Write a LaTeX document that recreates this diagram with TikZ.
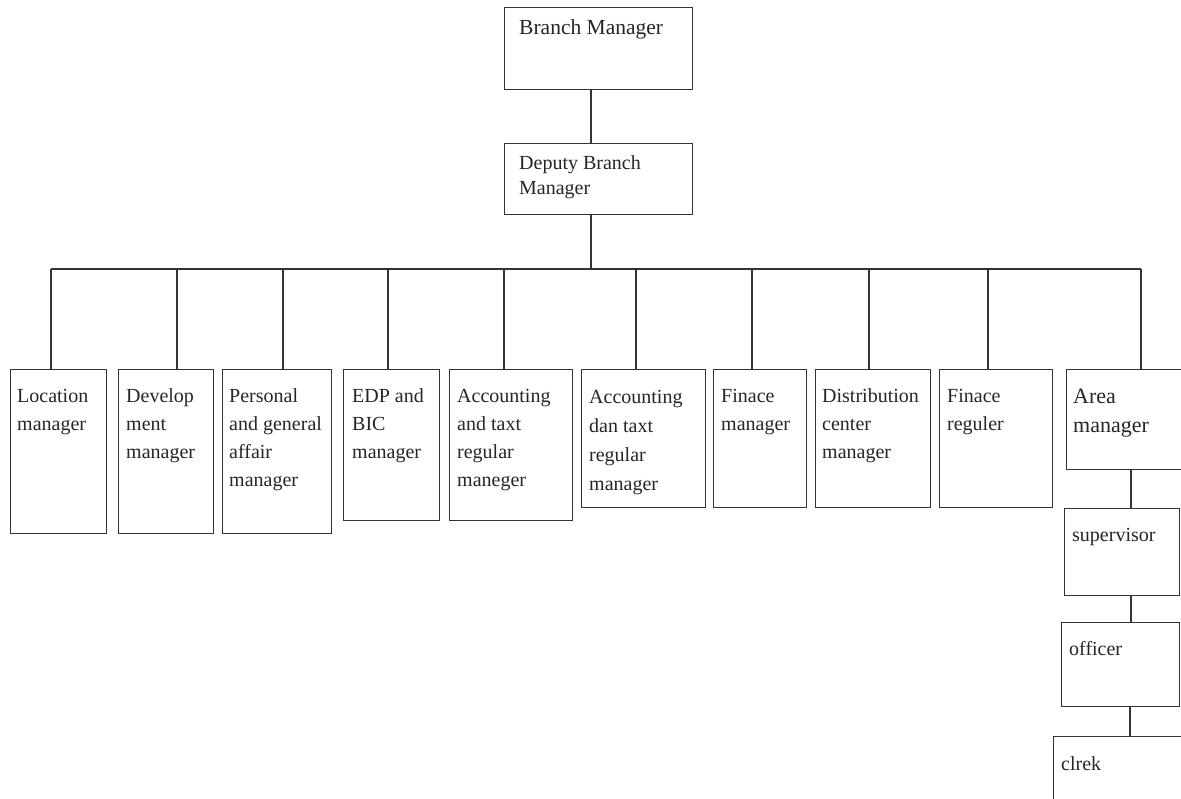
\documentclass[tikz,border=0pt]{standalone}
\usepackage{fontspec}
\setmainfont{Liberation Serif}
\usetikzlibrary{calc}
\newcommand\stk[1]{\begin{tabular}[t]{@{}l@{}}#1\end{tabular}}
\tikzset{
  box/.style={draw=black!80, line width=1.3pt, rectangle, inner sep=0pt, anchor=north west},
  conn/.style={draw=black!80, line width=1.3pt},
  lbl/.style={anchor=base west, inner sep=0pt, text=black!85, font=\fontsize{20}{28}\selectfont},
}
\begin{document}
\begin{tikzpicture}[x=1pt,y=-1pt]
\useasboundingbox (0,0) rectangle (1181,799);
\clip (0,0) rectangle (1181,799);
\fill[white] (0,0) rectangle (1181,799);
% top
\node[box, minimum width=188pt, minimum height=82pt] (bm) at (504,7) {};
\node[lbl, font=\fontsize{21.5}{26}\selectfont] (bmT) at ($(bm.north west)+(15,28)$) {Branch Manager};
\node[box, minimum width=188pt, minimum height=71pt] (dbm) at (504,143) {};
\node[lbl, font=\fontsize{20}{25}\selectfont] (dbmT) at ($(dbm.north west)+(15,27)$) {\stk{Deputy Branch\\Manager}};
% children
\node[box, minimum width=96pt, minimum height=164pt] (loc) at (10,369) {};
\node[lbl] (locT) at ($(loc.north west)+(7,34)$) {\stk{Location\\manager}};
\node[box, minimum width=95pt, minimum height=164pt] (dev) at (118,369) {};
\node[lbl] (devT) at ($(dev.north west)+(8,34)$) {\stk{Develop\\ment\\manager}};
\node[box, minimum width=109pt, minimum height=164pt] (per) at (222,369) {};
\node[lbl] (perT) at ($(per.north west)+(7,34)$) {\stk{Personal\\and general\\affair\\manager}};
\node[box, minimum width=96pt, minimum height=151pt] (edp) at (343,369) {};
\node[lbl] (edpT) at ($(edp.north west)+(9,34)$) {\stk{EDP and\\BIC\\manager}};
\node[box, minimum width=123pt, minimum height=151pt] (ac1) at (449,369) {};
\node[lbl] (ac1T) at ($(ac1.north west)+(8,34)$) {\stk{Accounting\\and taxt\\regular\\maneger}};
\node[box, minimum width=124pt, minimum height=138pt] (ac2) at (581,369) {};
\node[lbl, font=\fontsize{20}{29}\selectfont] (ac2T) at ($(ac2.north west)+(8,35)$) {\stk{Accounting\\dan taxt\\regular\\manager}};
\node[box, minimum width=93pt, minimum height=138pt] (fin) at (713,369) {};
\node[lbl] (finT) at ($(fin.north west)+(8,34)$) {\stk{Finace\\manager}};
\node[box, minimum width=115pt, minimum height=138pt] (dis) at (815,369) {};
\node[lbl] (disT) at ($(dis.north west)+(7,34)$) {\stk{Distribution\\center\\manager}};
\node[box, minimum width=113pt, minimum height=138pt] (frg) at (939,369) {};
\node[lbl] (frgT) at ($(frg.north west)+(8,34)$) {\stk{Finace\\reguler}};
\node[box, minimum width=130pt, minimum height=100pt] (area) at (1066,369) {};
\node[lbl, font=\fontsize{22}{29}\selectfont] (areaT) at ($(area.north west)+(7,35)$) {\stk{Area\\manager}};
% chain
\node[box, minimum width=115pt, minimum height=87pt] (sup) at (1064,508) {};
\node[lbl] (supT) at ($(sup.north west)+(8,33)$) {supervisor};
\node[box, minimum width=118pt, minimum height=84pt] (off) at (1061,622) {};
\node[lbl] (offT) at ($(off.north west)+(8,33)$) {officer};
\node[box, minimum width=140pt, minimum height=90pt] (clk) at (1053,736) {};
\node[lbl] (clkT) at ($(clk.north west)+(8,34)$) {clrek};
% connectors
\coordinate (j0) at (591,269);
\draw[conn] (j0 |- bm.south) -- (j0 |- dbm.north);
\draw[conn] (j0 |- dbm.south) -- (j0);
\coordinate (d1) at (51,269);
\coordinate (d2) at (177,269);
\coordinate (d3) at (283,269);
\coordinate (d4) at (388,269);
\coordinate (d5) at (504,269);
\coordinate (d6) at (636,269);
\coordinate (d7) at (752,269);
\coordinate (d8) at (869,269);
\coordinate (d9) at (988,269);
\coordinate (d10) at (1141,269);
\draw[conn] (d1) -- (d10);
\draw[conn] (d1) -- (d1 |- loc.north);
\draw[conn] (d2) -- (d2 |- dev.north);
\draw[conn] (d3) -- (d3 |- per.north);
\draw[conn] (d4) -- (d4 |- edp.north);
\draw[conn] (d5) -- (d5 |- ac1.north);
\draw[conn] (d6) -- (d6 |- ac2.north);
\draw[conn] (d7) -- (d7 |- fin.north);
\draw[conn] (d8) -- (d8 |- dis.north);
\draw[conn] (d9) -- (d9 |- frg.north);
\draw[conn] (d10) -- (d10 |- area.north);
\coordinate (v1) at (1131,0);
\coordinate (v2) at (1130,0);
\draw[conn] (v1 |- area.south) -- (v1 |- sup.north);
\draw[conn] (v1 |- sup.south) -- (v1 |- off.north);
\draw[conn] (v2 |- off.south) -- (v2 |- clk.north);
\end{tikzpicture}
\end{document}
